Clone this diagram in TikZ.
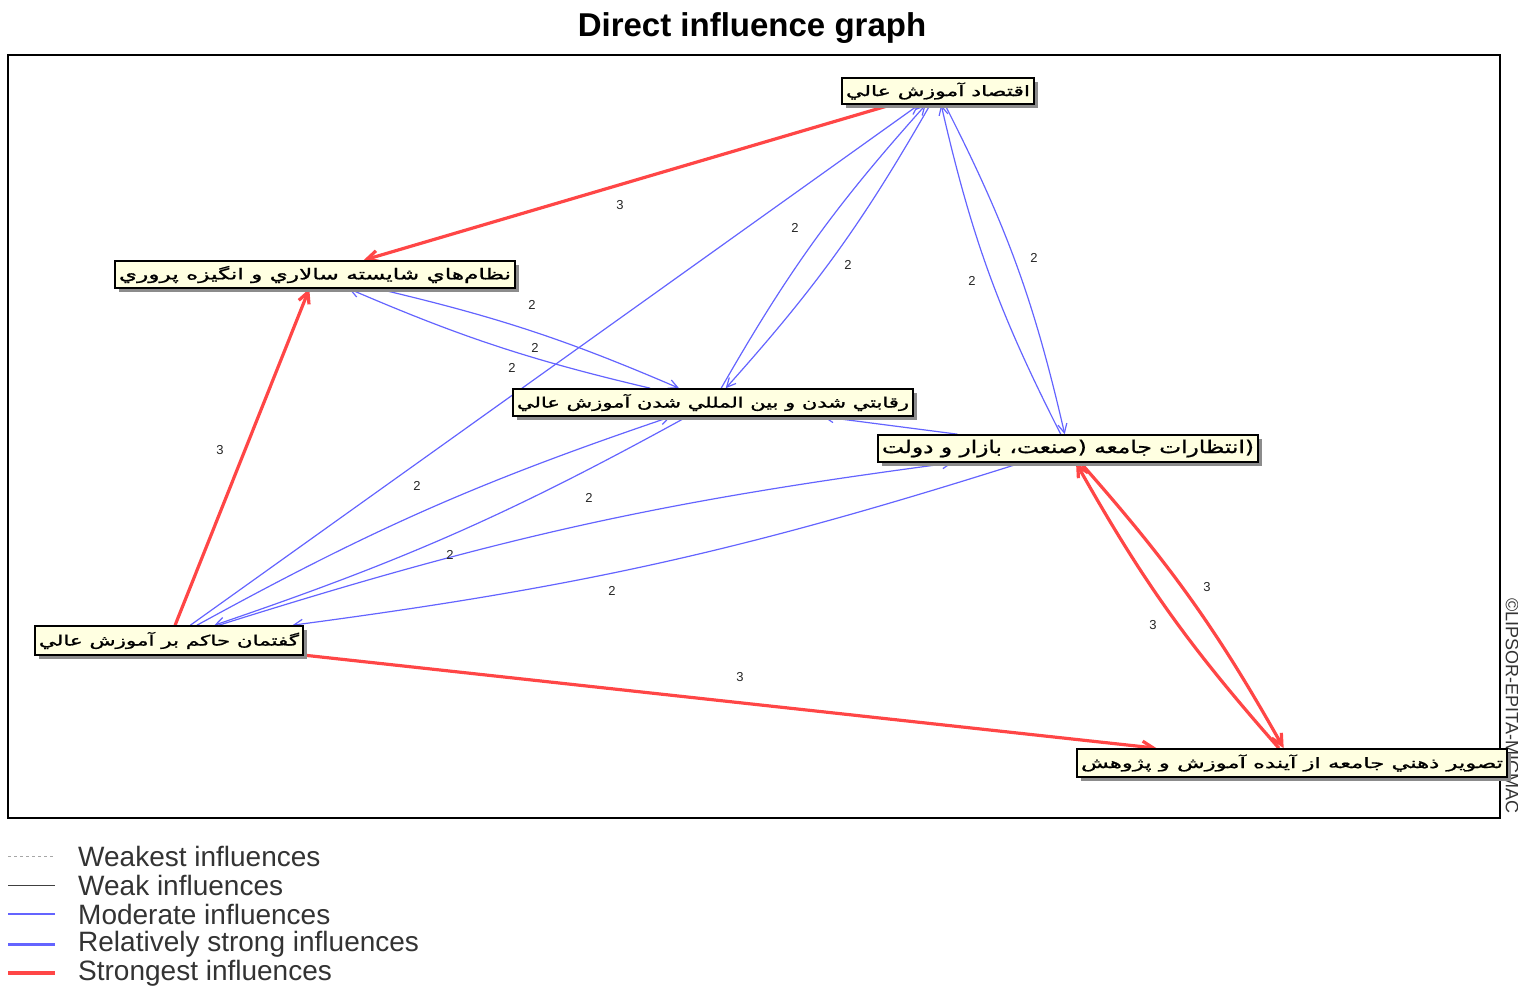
\documentclass[tikz,border=0pt]{standalone}
\usepackage{fontspec}
\setmainfont{Liberation Sans}
\newfontfamily\arabicfont[Script=Arabic,FakeBold=1]{DejaVu Sans}
\TeXXeTstate=1
\usetikzlibrary{arrows.meta,shadows}
\definecolor{bl}{RGB}{100,100,255}
\definecolor{rd}{RGB}{255,70,70}
\definecolor{boxfill}{RGB}{255,255,225}
\newcommand{\fa}[2]{\resizebox{#1}{13.5pt}{\arabicfont #2}}
\pgfdeclarelayer{bg}
\pgfsetlayers{bg,main}
\begin{document}
\begin{tikzpicture}[x=1pt,y=-1pt,
 box/.style={draw=black,line width=1.6pt,fill=boxfill,inner sep=0pt,
   drop shadow={shadow xshift=4pt,shadow yshift=-4pt,fill=black!45,opacity=1}},
 mod/.style={draw=bl,line width=1.2pt,-{Straight Barb[length=9pt,width=9pt]}},
 strong/.style={draw=rd,line width=3.2pt,-{Straight Barb[length=11pt,width=11pt]}},
 num/.style={font=\fontsize{13}{13}\selectfont,inner sep=0pt,text=black!85},
 legtext/.style={font=\fontsize{28}{28}\selectfont,anchor=west,inner sep=0pt,text=black!80}]
\useasboundingbox (0,0) rectangle (1518,986);
% title and frame
\node[font=\bfseries\fontsize{33}{33}\selectfont] (title) at (752,28) {Direct influence graph};
\draw[line width=1.3pt] (8,55) rectangle (1500,818);
\node[rotate=-90,anchor=west,font=\fontsize{18}{18}\selectfont,text=black!80,inner sep=0pt] (copy) at (1512,598) {©LIPSOR-EPITA-MICMAC};
% nodes
\node[box,minimum width=192pt,minimum height=26pt] (A) at (938,91) {\fa{184pt}{\beginR اقتصاد آموزش عالي\endR}};
\node[box,minimum width=400pt,minimum height=27pt] (B) at (315,274.5) {\fa{392pt}{\beginR نظام‌هاي شايسته سالاري و  انگيزه پروري\endR}};
\node[box,minimum width=400pt,minimum height=27pt] (C) at (713,402.5) {\fa{392pt}{\beginR رقابتي شدن و بين المللي شدن آموزش عالي\endR}};
\node[box,minimum width=380pt,minimum height=27pt] (D) at (1068,448.5) {\fa{372pt}{\beginR (انتظارات جامعه (صنعت، بازار و دولت\endR}};
\node[box,minimum width=268pt,minimum height=29pt] (E) at (169,640.5) {\fa{260pt}{\beginR گفتمان حاکم بر آموزش عالي\endR}};
\node[box,minimum width=430pt,minimum height=28pt] (F) at (1292,763) {\fa{422pt}{\beginR تصوير ذهني جامعه از آينده آموزش و پژوهش\endR}};
% edges
\begin{pgfonlayer}{bg}
\draw[strong] (A) -- (B);
\draw[strong] (E) -- (B);
\draw[strong] (E) -- (F);
\draw[strong] (D) to[bend left=6] (F);
\draw[strong] (F) to[bend left=6] (D);
\draw[mod] (B) to[bend left=5] (C);
\draw[mod] (C) to[bend left=5] (B);
\draw[mod] (C) to[bend left=6] (A);
\draw[mod] (A) to[bend left=6] (C);
\draw[mod] (A) to[bend left=7] (D);
\draw[mod] (D) to[bend left=7] (A);
\draw[mod] (E) -- (A);
\draw[mod] (E) to[bend left=5] (C);
\draw[mod] (C) to[bend left=5] (E);
\draw[mod] (E) to[bend left=5] (D);
\draw[mod] (D) to[bend left=5] (E);
\draw[mod] (D) -- (C);
\end{pgfonlayer}
% labels
\node[num] (l1) at (620,205) {3};
\node[num] (l2) at (220,450) {3};
\node[num] (l3) at (740,677) {3};
\node[num] (l4) at (1207,587) {3};
\node[num] (l5) at (1153,625) {3};
\node[num] (m1) at (532,305) {2};
\node[num] (m2) at (535,348) {2};
\node[num] (m3) at (512,368) {2};
\node[num] (m4) at (795,228) {2};
\node[num] (m5) at (848,265) {2};
\node[num] (m6) at (972,281) {2};
\node[num] (m7) at (1034,258) {2};
\node[num] (m8) at (417,486) {2};
\node[num] (m9) at (589,498) {2};
\node[num] (m10) at (450,555) {2};
\node[num] (m11) at (612,591) {2};
% legend
\coordinate (g1a) at (8,856); \coordinate (g1b) at (55,856);
\coordinate (g2a) at (8,885); \coordinate (g2b) at (55,885);
\coordinate (g3a) at (8,914); \coordinate (g3b) at (55,914);
\coordinate (g4a) at (8,944); \coordinate (g4b) at (55,944);
\coordinate (g5a) at (8,973); \coordinate (g5b) at (55,973);
\draw[black!35,dashed,line width=0.8pt] (g1a) -- (g1b);
\draw[black!75,line width=1pt] (g2a) -- (g2b);
\draw[bl,line width=1.2pt] (g3a) -- (g3b);
\draw[bl,line width=3pt] (g4a) -- (g4b);
\draw[rd,line width=3.2pt] (g5a) -- (g5b);
\node[legtext] (t1) at (78,856) {Weakest influences};
\node[legtext] (t2) at (78,885) {Weak influences};
\node[legtext] (t3) at (78,914) {Moderate influences};
\node[legtext] (t4) at (78,944) {Relatively strong influences};
\node[legtext] (t5) at (78,973) {Strongest influences};
\end{tikzpicture}
\end{document}
